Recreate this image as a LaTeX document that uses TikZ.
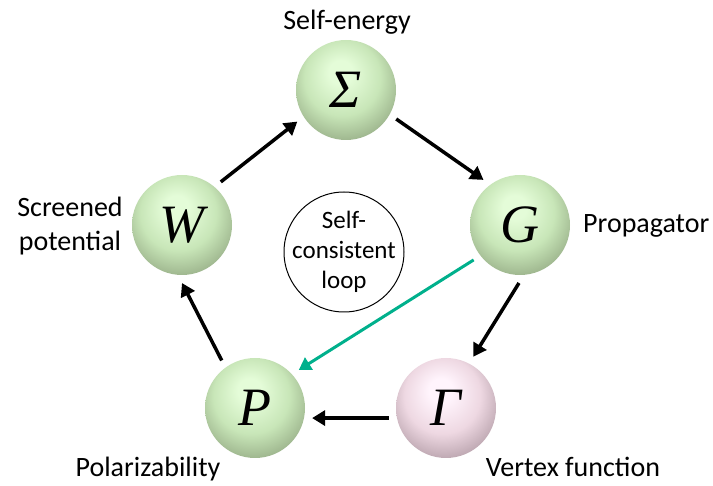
\documentclass[tikz,border=0pt]{standalone}
\usepackage{fontspec}
\setmainfont{Carlito}
\newfontfamily\greekfont{Liberation Serif}
\usetikzlibrary{arrows.meta}
\definecolor{gHi}{RGB}{228,252,216}
\definecolor{gMid}{RGB}{200,230,184}
\definecolor{gDark}{RGB}{160,184,144}
\definecolor{gEdge}{RGB}{112,128,102}
\definecolor{pHi}{RGB}{255,244,252}
\definecolor{pMid}{RGB}{238,216,226}
\definecolor{pDark}{RGB}{192,170,180}
\definecolor{pEdge}{RGB}{135,120,126}
\definecolor{teal}{RGB}{0,176,140}
\pgfdeclareradialshading{gball}{\pgfqpoint{-3bp}{10bp}}{color(0bp)=(gHi); color(6bp)=(gHi); color(19bp)=(gMid); color(29bp)=(gDark); color(36bp)=(gEdge); color(50bp)=(gEdge)}
\pgfdeclareradialshading{pball}{\pgfqpoint{-3bp}{10bp}}{color(0bp)=(pHi); color(6bp)=(pHi); color(19bp)=(pMid); color(29bp)=(pDark); color(36bp)=(pEdge); color(50bp)=(pEdge)}
\tikzset{
  sphere/.style={circle, minimum size=100pt, inner sep=0pt, outer sep=8pt,
    font=\greekfont\itshape\fontsize{54}{54}\selectfont},
  gsphere/.style={sphere, shade, shading=gball},
  psphere/.style={sphere, shade, shading=pball},
  lbl/.style={font=\fontsize{28}{34}\selectfont, inner sep=0pt},
  flow/.style={line width=3.5pt, -{Triangle[length=13pt,width=15pt]}},
  gflow/.style={line width=3pt, draw=teal, -{Triangle[length=12pt,width=14pt]}},
}
\begin{document}
\begin{tikzpicture}[x=1pt,y=-1pt]
\useasboundingbox (0,0) rectangle (713,486);
\node[gsphere] (S) at (346,90) {Σ};
\node[gsphere] (G) at (520,225) {G};
\node[gsphere] (W) at (182,225) {W};
\node[gsphere] (P) at (255,408) {P};
\node[psphere] (Ga) at (446,408) {Γ};
\node[draw, circle, line width=1pt, minimum size=120pt, inner sep=0pt] (L) at (344,252) {};
\node[font=\fontsize{25}{30}\selectfont, align=center, inner sep=0pt] (Lt) at (L.center) {Self-\\consistent\\loop};
\node[lbl, anchor=base] (tS) at (347,30) {Self-energy};
\node[lbl, anchor=base west] (tG) at (583,233) {Propagator};
\node[lbl, anchor=base] (tP) at (148,477) {Polarizability};
\node[lbl, anchor=base] (tGa) at (573,477) {Vertex function};
\node[lbl, align=center] (tW) at (70,226) {Screened\\potential};
\draw[flow] (W.48) -- (S.213);
\draw[flow] (S.-30) -- (G.129);
\draw[flow] (G.-91) -- (Ga.62);
\draw[flow] (Ga.190) -- (P.-10);
\draw[flow] (P.125) -- (W.-90);
\draw[gflow] (G.217) -- (P.41);
\end{tikzpicture}
\end{document}
